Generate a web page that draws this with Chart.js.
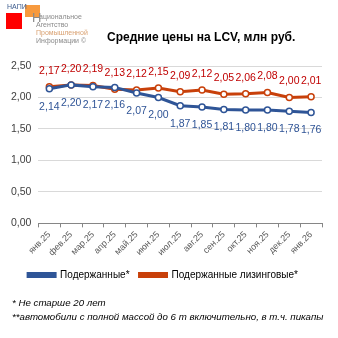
<!DOCTYPE html>
<html>
<head>
<meta charset="utf-8">
<script src="https://cdn.jsdelivr.net/npm/chart.js@4/dist/chart.umd.min.js"></script>
<style>
  body { margin: 0; background: #fff; }
  #wrap { position: relative; width: 338px; height: 338px; overflow: hidden; font-family: "Liberation Sans", Arial, sans-serif; }
  #chart { position: absolute; left: 0; top: 0; }
  .abs { position: absolute; white-space: nowrap; }
  #title { left: 107px; top: 30px; font-size: 12px; font-weight: bold; color: #000; }
  .logo-t { font-size: 7px; line-height: 8px; font-family: "Liberation Sans Narrow", "Liberation Sans", sans-serif; }
  .note { font-size: 9.7px; font-style: italic; color: #000; left: 12px; }
</style>
</head>
<body>
<div id="wrap">
  <canvas id="chart" width="338" height="338"></canvas>
  <!-- логотип -->
  <div class="abs" style="left:6px;top:13px;width:16px;height:16px;background:#f00;"></div>
  <div class="abs" style="left:25px;top:5px;width:15px;height:12px;background:#f79a3e;"></div>
  <div class="abs logo-t" style="left:7px;top:3px;color:#3b5a8c;">НАПИ</div>
  <div class="abs" style="left:32px;top:10px;font-size:13px;color:#8a8a8a;font-family:'Liberation Sans Narrow',sans-serif;">Н</div>
  <div class="abs logo-t" style="left:39px;top:13px;color:#8a8a8a;">ациональное</div>
  <div class="abs logo-t" style="left:36px;top:21px;color:#8a8a8a;">Агентство</div>
  <div class="abs logo-t" style="left:36px;top:29px;color:#d9a070;">Промышленной</div>
  <div class="abs logo-t" style="left:36px;top:37px;color:#8a8a8a;">Информации ©</div>
  <div class="abs" id="title">Средние цены на LCV, млн руб.</div>
  <div class="abs note" style="top:297px;">* Не старше 20 лет</div>
  <div class="abs note" style="top:311px;">**автомобили с полной массой до 6 т включительно, в т.ч. пикапы</div>
</div>
<script>
// Данные
const months = ['янв.25', 'фев.25', 'мар.25', 'апр.25', 'май.25', 'июн.25', 'июл.25',
                'авг.25', 'сен.25', 'окт.25', 'ноя.25', 'дек.25', 'янв.26'];
const usedPrices = [2.14, 2.20, 2.17, 2.16, 2.07, 2.00, 1.87, 1.85, 1.81, 1.80, 1.80, 1.78, 1.76];
const leasingPrices = [2.17, 2.20, 2.19, 2.13, 2.12, 2.15, 2.09, 2.12, 2.05, 2.06, 2.08, 2.00, 2.01];
const yTicks = [0, 0.5, 1, 1.5, 2, 2.5];

function fmt(v) { return v.toFixed(2).replace('.', ','); }

// подписи значений над/под точками
const valueLabels = {
    id: 'valueLabels',
    afterDatasetsDraw(chart) {
        const ctx = chart.ctx;
        ctx.save();
        ctx.font = '10.5px "Liberation Sans Narrow", "Liberation Sans", sans-serif';
        ctx.textAlign = 'center';
        ctx.textBaseline = 'middle';
        chart.data.datasets.forEach(function(ds, i) {
            const meta = chart.getDatasetMeta(i);
            ctx.fillStyle = ds.labelColor;
            meta.data.forEach(function(pt, j) {
                ctx.fillText(fmt(ds.data[j]), pt.x, pt.y + ds.labelOffset);
            });
        });
        ctx.restore();
    }
};

const ctx = document.getElementById('chart').getContext('2d');
new Chart(ctx, {
    type: 'line',
    data: {
        labels: months,
        datasets: [{
            label: 'Подержанные*',
            data: usedPrices,
            borderColor: '#2f5597',
            backgroundColor: '#2f5597',
            borderWidth: 3,
            pointRadius: 3,
            pointBorderWidth: 1.5,
            pointBackgroundColor: '#fff',
            pointBorderColor: '#2f5597',
            labelColor: '#2f5496',
            labelOffset: 18
        }, {
            label: 'Подержанные лизинговые*',
            data: leasingPrices,
            borderColor: '#c8400a',
            backgroundColor: '#c8400a',
            borderWidth: 3,
            pointRadius: 3,
            pointBorderWidth: 1.5,
            pointBackgroundColor: '#fff',
            pointBorderColor: '#c8400a',
            labelColor: '#c00000',
            labelOffset: -16
        }]
    },
    options: {
        responsive: false,
        animation: false,
        layout: { padding: { top: 66, left: 4, right: 16, bottom: 48 } },
        plugins: {
            legend: {
                position: 'bottom',
                labels: {
                    boxWidth: 27, boxHeight: 3,
                    color: '#000',
                    font: { family: '"Liberation Sans", sans-serif', size: 10 },
                    padding: 10
                }
            },
            tooltip: { enabled: false }
        },
        scales: {
            y: {
                min: 0, max: 2.5,
                afterBuildTicks: function(axis) { axis.ticks = yTicks.map(v => ({ value: v })); },
                ticks: {
                    color: '#404040',
                    font: { family: '"Liberation Sans Narrow", "Liberation Sans", sans-serif', size: 10.5 },
                    callback: v => fmt(v),
                    padding: 7
                },
                grid: { color: '#d9d9d9', drawTicks: false },
                border: { display: false }
            },
            x: {
                offset: true,
                ticks: {
                    color: '#595959',
                    font: { family: '"Liberation Sans Narrow", "Liberation Sans", sans-serif', size: 9 },
                    minRotation: 45, maxRotation: 45,
                    padding: 2
                },
                grid: { offset: true, drawOnChartArea: false, tickLength: 4, color: '#868686' },
                border: { color: '#868686' }
            }
        }
    },
    plugins: [valueLabels]
});
</script>
</body>
</html>
